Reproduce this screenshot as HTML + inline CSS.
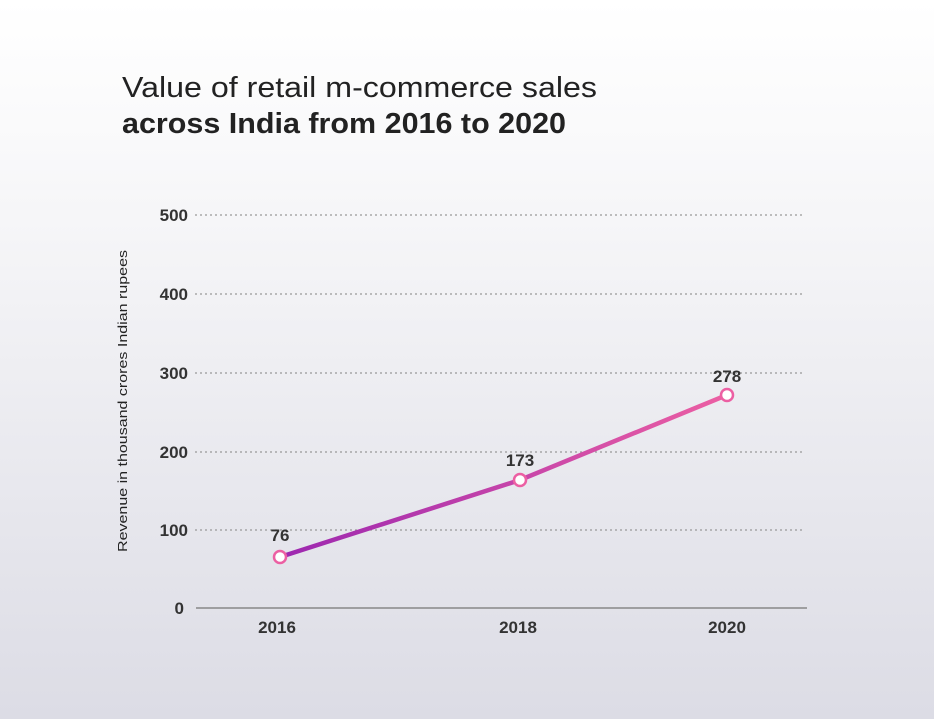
<!DOCTYPE html>
<html><head><style>
html,body{margin:0;padding:0}
body{width:934px;height:719px;background:linear-gradient(#ffffff 0%,#f6f6f8 30%,#dcdce5 100%);font-family:"Liberation Sans",sans-serif;position:relative;overflow:hidden}
</style></head><body>
<svg width="934" height="719" style="position:absolute;left:0;top:0" font-family="Liberation Sans, sans-serif">
<defs><linearGradient id="g" x1="280" y1="0" x2="727" y2="0" gradientUnits="userSpaceOnUse"><stop offset="0" stop-color="#9c27b0"/><stop offset="1" stop-color="#ec5fa3"/></linearGradient></defs>
<text x="122" y="97" font-size="29" fill="#222" textLength="475" lengthAdjust="spacingAndGlyphs">Value of retail m-commerce sales</text>
<text x="122" y="133" font-size="29" font-weight="bold" fill="#222" textLength="444" lengthAdjust="spacingAndGlyphs">across India from 2016 to 2020</text>
<g stroke="#999" stroke-width="1.3" stroke-dasharray="2,3">
<line x1="195" y1="215" x2="805" y2="215"/><line x1="195" y1="294" x2="805" y2="294"/><line x1="195" y1="373" x2="805" y2="373"/><line x1="195" y1="452" x2="805" y2="452"/><line x1="195" y1="530" x2="805" y2="530"/>
</g>
<line x1="196" y1="608" x2="807" y2="608" stroke="#888" stroke-width="1.5"/>
<g font-size="17" font-weight="bold" fill="#333" text-anchor="end">
<text x="188" y="221">500</text><text x="188" y="300">400</text><text x="188" y="379">300</text><text x="188" y="458">200</text><text x="188" y="536">100</text><text x="184" y="614">0</text>
</g>
<g font-size="17" font-weight="bold" fill="#333" text-anchor="middle">
<text x="277" y="633">2016</text><text x="518" y="633">2018</text><text x="727" y="633">2020</text>
<text x="280" y="541">76</text><text x="520" y="466">173</text><text x="727" y="382">278</text>
</g>
<text transform="translate(127,401) rotate(-90)" font-size="13" fill="#222" text-anchor="middle" textLength="302" lengthAdjust="spacingAndGlyphs">Revenue in thousand crores Indian rupees</text>
<polyline points="280,557 520,480 727,395" fill="none" stroke="url(#g)" stroke-width="4.5"/>
<g fill="#fff" stroke="#ec5fa3" stroke-width="2.5">
<circle cx="280" cy="557" r="6"/><circle cx="520" cy="480" r="6"/><circle cx="727" cy="395" r="6"/>
</g>
</svg>
</body></html>
